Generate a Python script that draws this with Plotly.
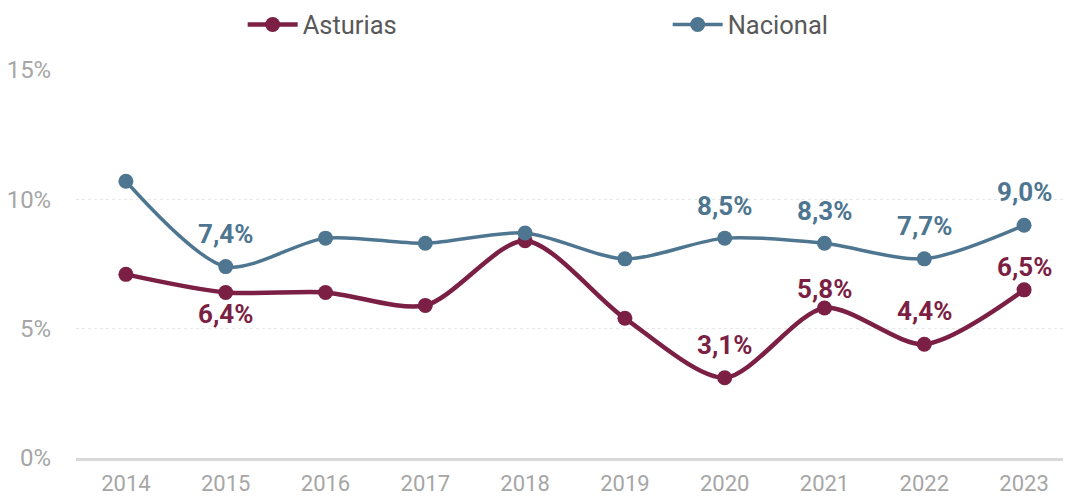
import plotly.graph_objects as go

years = ["2014", "2015", "2016", "2017", "2018", "2019", "2020", "2021", "2022", "2023"]
asturias = [7.1, 6.4, 6.4, 5.9, 8.4, 5.4, 3.1, 5.8, 4.4, 6.5]
nacional = [10.7, 7.4, 8.5, 8.3, 8.7, 7.7, 8.5, 8.3, 7.7, 9.0]
asturias_labelled = [False, True, False, False, False, False, True, True, True, True]
nacional_labelled = [False, True, False, False, False, False, True, True, True, True]
y_ticks = [0, 5, 10, 15]
y_tick_text = ["0%", "5%", "10%", "15%"]

# label pixel offsets (styling)
asturias_label_shift = [0, -22, 0, 0, 0, 0, 33, 19, 33, 23]
nacional_label_shift = [0, 33, 0, 0, 0, 0, 32, 32, 33, 33]

c_ast = "#7B1F45"
c_nac = "#4E7690"
font_family = "Roboto, Arial, sans-serif"

fig = go.Figure()
fig.add_trace(go.Scatter(
    x=years, y=asturias, name="Asturias", mode="lines+markers",
    line=dict(color=c_ast, width=4.5, shape="spline", smoothing=0.8),
    marker=dict(color=c_ast, size=15),
))
fig.add_trace(go.Scatter(
    x=years, y=nacional, name="Nacional", mode="lines+markers",
    line=dict(color=c_nac, width=3.5, shape="spline", smoothing=0.8),
    marker=dict(color=c_nac, size=15),
))

def fmt(v):
    return f"{v:.1f}".replace(".", ",") + "%"

for vals, lab, shifts, col in [(asturias, asturias_labelled, asturias_label_shift, c_ast),
                               (nacional, nacional_labelled, nacional_label_shift, c_nac)]:
    for i, (x, v) in enumerate(zip(years, vals)):
        if not lab[i]:
            continue
        fig.add_annotation(
            x=i, y=v, xref="x", yref="y", text="<b>" + fmt(v) + "</b>",
            showarrow=False, yshift=shifts[i],
            font=dict(family=font_family, size=26, color=col),
        )

fig.update_layout(
    width=1071, height=498,
    margin=dict(l=68, r=5, t=62, b=48, autoexpand=False),
    plot_bgcolor="white", paper_bgcolor="white",
    font=dict(family=font_family, color="#595959"),
    showlegend=True,
    legend=dict(
        orientation="h", x=0.167, xanchor="left", y=0.966, yanchor="middle",
        yref="container", entrywidth=360, entrywidthmode="pixels",
        font=dict(size=25.5, color="#595959"), itemwidth=50,
        bgcolor="rgba(0,0,0,0)",
    ),
    xaxis=dict(
        type="category", range=[-0.5, 9.5], showgrid=False, zeroline=False,
        showline=True, linecolor="#D9D9D9", linewidth=3,
        tickfont=dict(size=22, color="#A6A6A6"), ticks="outside", ticklen=4,
        tickcolor="rgba(0,0,0,0)", automargin=False,
    ),
    yaxis=dict(
        range=[0, 15], tickvals=y_ticks, ticktext=y_tick_text,
        showgrid=True, gridcolor="#E8E8E8", griddash="dot", gridwidth=1,
        zeroline=False, showline=False, automargin=False,
        tickfont=dict(size=24, color="#A6A6A6"), ticks="outside", ticklen=19,
        tickcolor="rgba(0,0,0,0)",
    ),
)

fig.write_html("out.html")
